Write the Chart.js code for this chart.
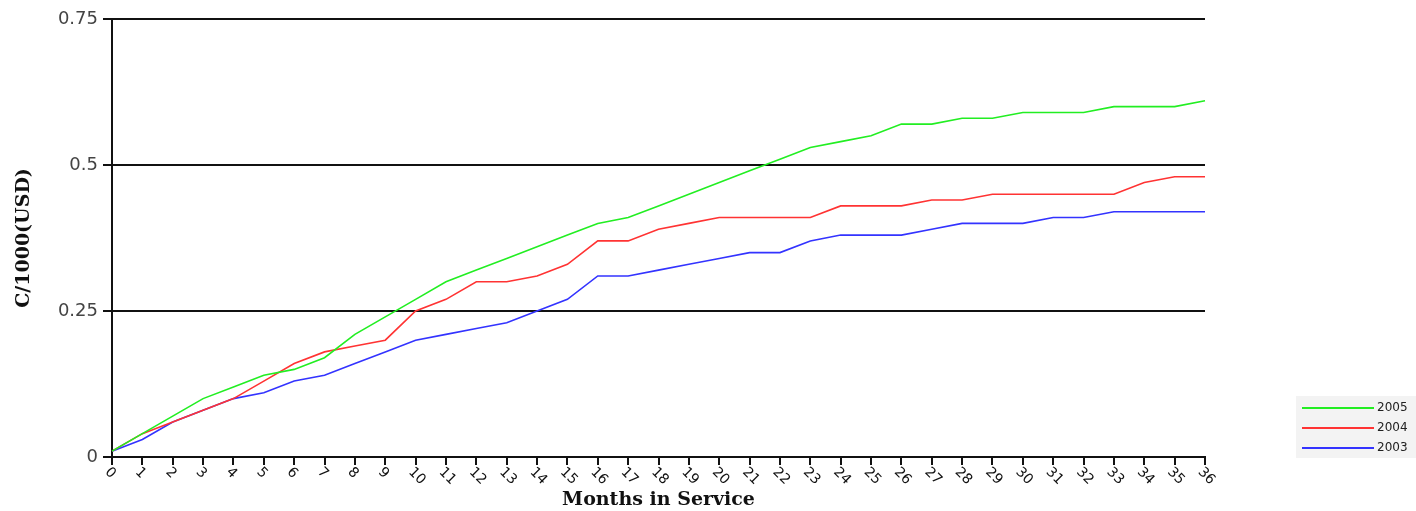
<!DOCTYPE html>
<html>
<head>
<meta charset="utf-8">
<script src="https://cdn.jsdelivr.net/npm/chart.js@4/dist/chart.umd.min.js"></script>
<style>
  html, body { margin: 0; padding: 0; background: #fff; }
  #wrap { width: 1416px; height: 511px; }
</style>
</head>
<body>
<div id="wrap"><canvas id="chart"></canvas></div>
<script>
// months 0..36
const months = ["0","1","2","3","4","5","6","7","8","9","10","11","12","13","14","15","16","17","18",
  "19","20","21","22","23","24","25","26","27","28","29","30","31","32","33","34","35","36"]

const y2005 = [0.01,0.04,0.07,0.10,0.12,0.14,0.15,0.17,0.21,0.24,0.27,0.30,0.32,0.34,0.36,0.38,0.40,0.41,0.43,
  0.45,0.47,0.49,0.51,0.53,0.54,0.55,0.57,0.57,0.58,0.58,0.59,0.59,0.59,0.60,0.60,0.60,0.61]
const y2004 = [0.01,0.04,0.06,0.08,0.10,0.13,0.16,0.18,0.19,0.20,0.25,0.27,0.30,0.30,0.31,0.33,0.37,0.37,0.39,
  0.40,0.41,0.41,0.41,0.41,0.43,0.43,0.43,0.44,0.44,0.45,0.45,0.45,0.45,0.45,0.47,0.48,0.48]
const y2003 = [0.01,0.03,0.06,0.08,0.10,0.11,0.13,0.14,0.16,0.18,0.20,0.21,0.22,0.23,0.25,0.27,0.31,0.31,0.32,
  0.33,0.34,0.35,0.35,0.37,0.38,0.38,0.38,0.39,0.40,0.40,0.40,0.41,0.41,0.42,0.42,0.42,0.42]

const yTicks = [0, 0.25, 0.5, 0.75]

// x labels are drawn slanted down-right, legend sits bottom right
const extras = {
  id: "extras",
  afterDraw(chart) {
    const ctx = chart.ctx
    const xs = chart.scales.x
    ctx.save()
    ctx.fillStyle = "#111"
    ctx.font = "14px 'DejaVu Sans'"
    ctx.textAlign = "left"
    ctx.textBaseline = "middle"
    months.forEach((m, i) => {
      const x = xs.getPixelForTick(i)
      ctx.save()
      ctx.translate(x - 5, xs.top + 13)
      ctx.rotate(Math.PI / 4)
      ctx.fillText(m, 0, 0)
      ctx.restore()
    })

    // legend
    ctx.fillStyle = "#f3f3f3"
    ctx.fillRect(1296, 396, 120, 62)
    ctx.font = "12px 'DejaVu Sans'"
    ctx.fillStyle = "#222"
    chart.data.datasets.forEach((ds, i) => {
      const y = 408 + i * 20
      ctx.strokeStyle = ds.borderColor
      ctx.lineWidth = 2
      ctx.beginPath()
      ctx.moveTo(1302, y)
      ctx.lineTo(1374, y)
      ctx.stroke()
      ctx.fillText(ds.label, 1377, y)
    })
    ctx.restore()
  }
}

new Chart(document.getElementById("chart").getContext("2d"), {
  type: "line",
  data: {
    labels: months,
    datasets: [
      { label: "2005", data: y2005, borderColor: "#22ee22" },
      { label: "2004", data: y2004, borderColor: "#ff3333" },
      { label: "2003", data: y2003, borderColor: "#3333ff" }
    ]
  },
  options: {
    responsive: true,
    maintainAspectRatio: false,
    animation: false,
    layout: { padding: { top: 19, right: 211, left: 0, bottom: 0 } },
    elements: {
      line: { borderWidth: 1.6, tension: 0 },
      point: { radius: 0 }
    },
    plugins: {
      legend: { display: false },
      tooltip: { enabled: false }
    },
    scales: {
      x: {
        grid: { drawOnChartArea: false, color: "#111", lineWidth: 2, tickLength: 8 },
        border: { color: "#111", width: 2 },
        ticks: { display: false },
        title: {
          display: true,
          text: "Months in Service",
          color: "#111",
          font: { family: "'DejaVu Serif'", size: 19, weight: "bold" },
          padding: { top: 0, bottom: 0 }
        },
        afterFit: s => { s.height = 54 }
      },
      y: {
        min: 0,
        max: 0.75,
        afterBuildTicks: s => { s.ticks = yTicks.map(v => ({ value: v })) },
        grid: { color: "#111", lineWidth: 2, tickLength: 9 },
        border: { color: "#111", width: 2 },
        ticks: {
          color: "#444",
          padding: 5,
          font: { family: "'DejaVu Sans'", size: 18 },
          callback: v => String(v)
        },
        title: {
          display: true,
          text: "C/1000(USD)",
          color: "#111",
          font: { family: "'DejaVu Serif'", size: 19, weight: "bold" },
          padding: { top: 13, bottom: 0 }
        },
        afterFit: s => { s.width = 112 }
      }
    }
  },
  plugins: [extras]
})
</script>
</body>
</html>
